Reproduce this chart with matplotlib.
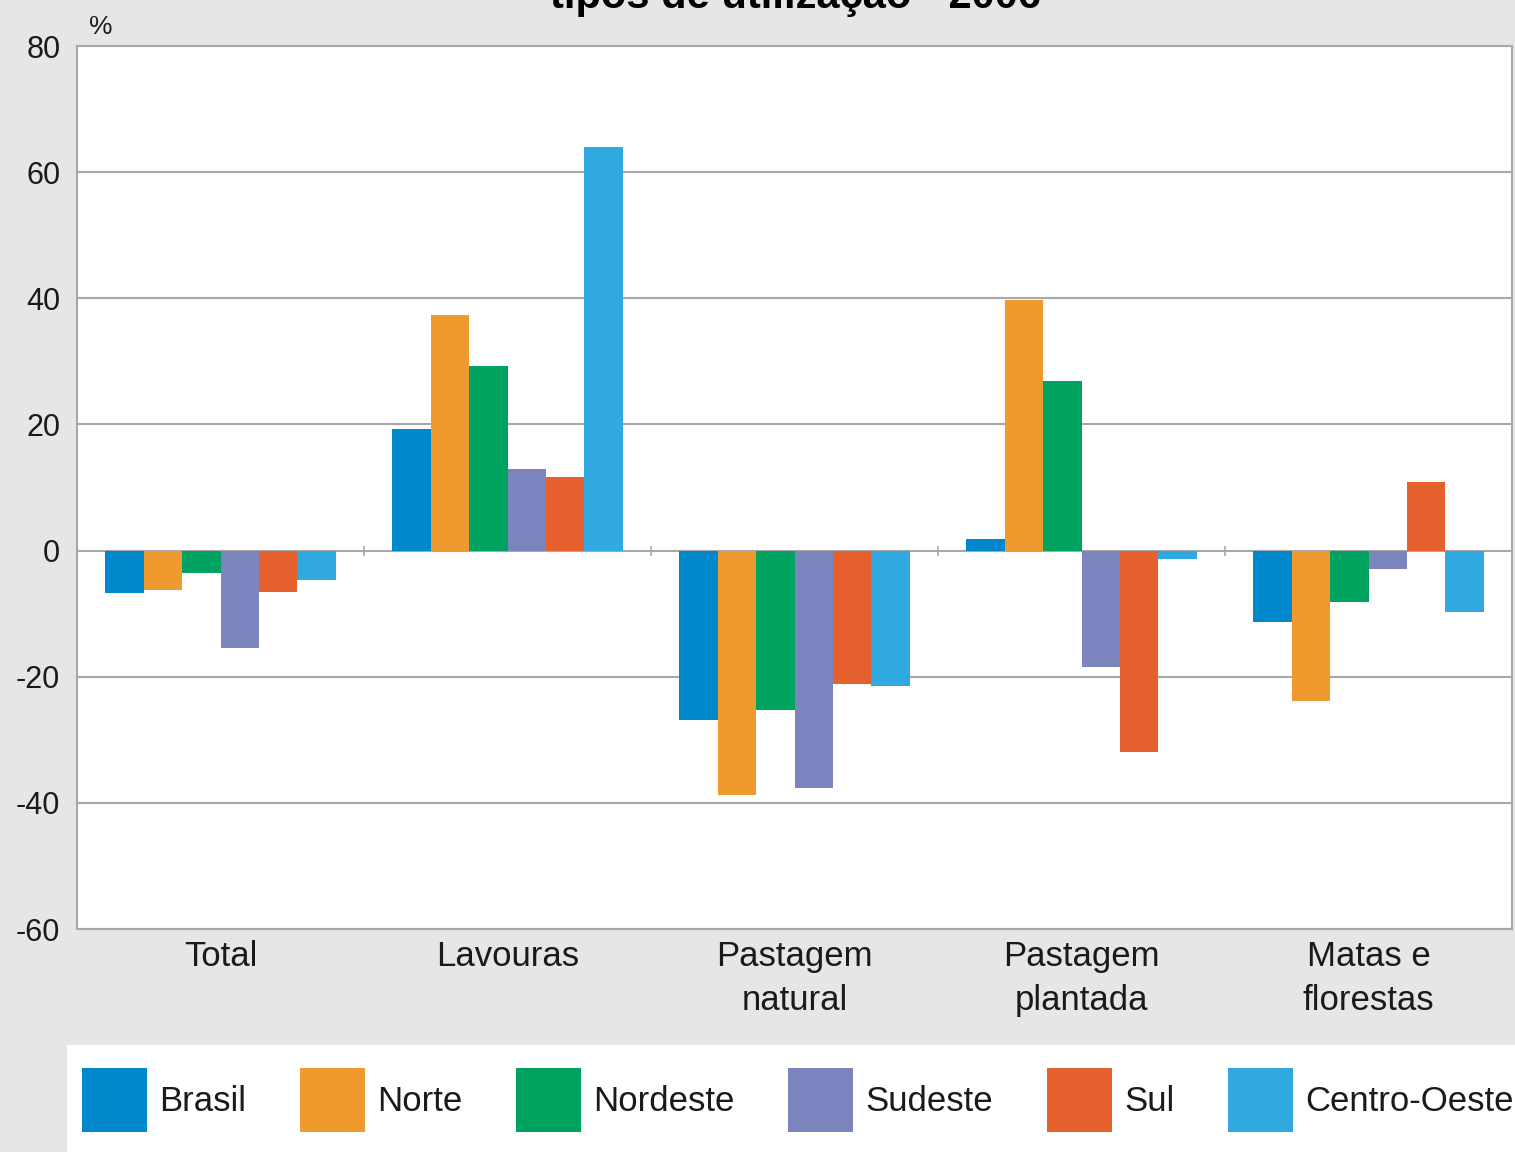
import numpy as np
import matplotlib
matplotlib.use("Agg")
import matplotlib.pyplot as plt

# Data
categories = ["Total", "Lavouras", "Pastagem\nnatural", "Pastagem\nplantada", "Matas e\nflorestas"]
regions = ["Brasil", "Norte", "Nordeste", "Sudeste", "Sul", "Centro-Oeste"]
brasil = [-6.8, 19.3, -26.8, 1.9, -11.3]
norte = [-6.2, 37.4, -38.8, 39.8, -23.9]
nordeste = [-3.6, 29.2, -25.2, 26.9, -8.1]
sudeste = [-15.4, 13.0, -37.6, -18.5, -3.0]
sul = [-6.5, 11.7, -21.1, -31.9, 10.8]
centro_oeste = [-4.6, 64.0, -21.4, -1.4, -9.7]
series = [brasil, norte, nordeste, sudeste, sul, centro_oeste]
colors = ["#0088cc", "#ee9a2f", "#00a25f", "#7b84bd", "#e5602c", "#2fa9e0"]

plt.rcParams['font.family'] = ['Liberation Sans', 'DejaVu Sans']
plt.rcParams['axes.unicode_minus'] = False

fig = plt.figure(figsize=(15.15, 11.52), dpi=100)
fig.patch.set_facecolor("#e6e6e8")

W, H = 1515, 1152
ax = fig.add_axes([77 / W, 1 - 929 / H, (1512 - 77) / W, (929 - 46) / H])
ax.set_facecolor("white")

x = np.arange(len(categories))
bw = 0.134
for i, (vals, c, name) in enumerate(zip(series, colors, regions)):
    ax.bar(x + (i - 2.5) * bw, vals, width=bw, color=c, label=name, zorder=3)

ax.set_xlim(-0.5, len(categories) - 0.5)
ax.set_ylim(-60, 80)
ax.set_yticks(np.arange(-60, 81, 20))
ax.yaxis.grid(True, color="#a8a8a8", linewidth=1.5, zorder=0)
ax.set_xticks(x)
ax.set_xticklabels(categories, fontsize=25, linespacing=1.4, color="#1a1a1a")
ax.tick_params(axis="x", length=0, pad=8)
ax.tick_params(axis="y", length=0, labelsize=22, pad=12, labelcolor="#1a1a1a")
for s in ax.spines.values():
    s.set_color("#a8a8a8")
    s.set_linewidth(1.5)
# small separators on the zero line
ax.vlines(x[:-1] + 0.5, -0.8, 0.8, color="#a8a8a8", linewidth=1.2, zorder=2)

fig.text(101 / W, 1 - 27 / H, "%", fontsize=19, ha="center", va="center", color="#1a1a1a")
fig.text(795 / W, 1 - 8 / H, "tipos de utilização - 2006", fontsize=30,
         fontweight="bold", ha="center", va="baseline")

# legend panel
lax = fig.add_axes([67 / W, 0, 1 - 67 / W, (1152 - 1045) / H])
lax.set_facecolor("white")
lax.set_xticks([])
lax.set_yticks([])
for s in lax.spines.values():
    s.set_visible(False)
handles, labels = ax.get_legend_handles_labels()
fig.legend(handles, labels, loc="center left", bbox_to_anchor=(82 / W, 1 - 1100 / H),
           ncol=6, frameon=False, fontsize=25, labelcolor="#1a1a1a",
           handlelength=1.87, handleheight=2.5, handletextpad=0.35, columnspacing=1.55,
           borderpad=0, borderaxespad=0)

fig.savefig("out.png", dpi=100, facecolor=fig.get_facecolor())
